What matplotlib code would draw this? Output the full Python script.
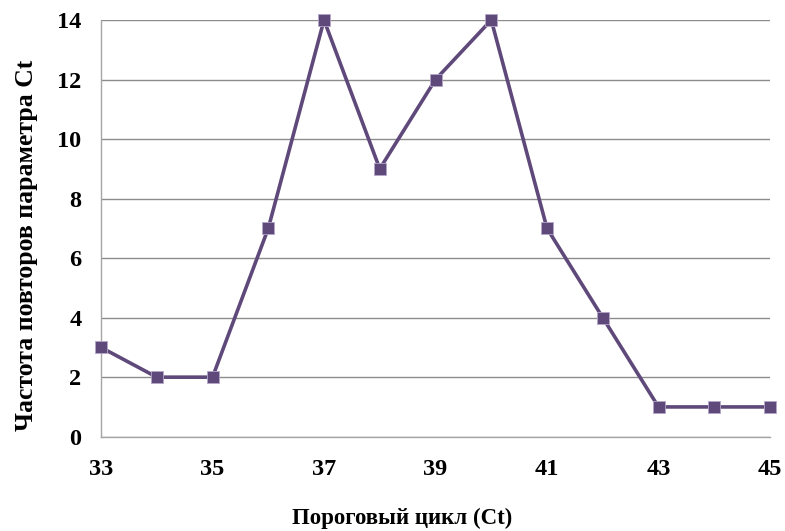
import matplotlib.pyplot as plt

cycles = [33, 34, 35, 36, 37, 38, 39, 40, 41, 42, 43, 44, 45]
counts = [3, 2, 2, 7, 14, 9, 12, 14, 7, 4, 1, 1, 1]
x_ticks = [33, 35, 37, 39, 41, 43, 45]
y_ticks = [0, 2, 4, 6, 8, 10, 12, 14]

plt.rcParams['font.family'] = ['Liberation Serif', 'DejaVu Serif']
plt.rcParams['font.weight'] = 'bold'

fig = plt.figure(figsize=(7.85, 5.31), dpi=100)
ax = fig.add_axes([0.1287, 0.1776, 0.8522, 0.7847])

ax.plot(cycles, counts, color='#5f497a', linewidth=2.6, marker='s',
        markersize=9, markerfacecolor='#5f497a', markeredgecolor='#b3a6c8',
        markeredgewidth=0.6, zorder=3, clip_on=False)

ax.set_xlim(33, 45)
ax.set_ylim(0, 14)
ax.set_xticks(x_ticks)
ax.set_yticks(y_ticks)
ax.tick_params(length=0, labelsize=17.5)
ax.tick_params(axis='x', pad=16)
ax.tick_params(axis='y', pad=14)
ax.grid(axis='y', color='#8c8c8c', linewidth=1)
ax.set_axisbelow(True)
for side in ['top', 'right']:
    ax.spines[side].set_visible(False)
for side in ['left', 'bottom']:
    ax.spines[side].set_color('#a6a6a6')
    ax.spines[side].set_linewidth(1)

ax.set_xlabel('Пороговый цикл (Ct)', fontsize=16.5, fontweight='bold', labelpad=20)
ax.set_ylabel('Частота повторов параметра Ct', fontsize=18.5, fontweight='bold', labelpad=14)
ax.xaxis.label.set_x(0.45)
ax.yaxis.label.set_y(0.46)

fig.savefig('out.png', dpi=100)
